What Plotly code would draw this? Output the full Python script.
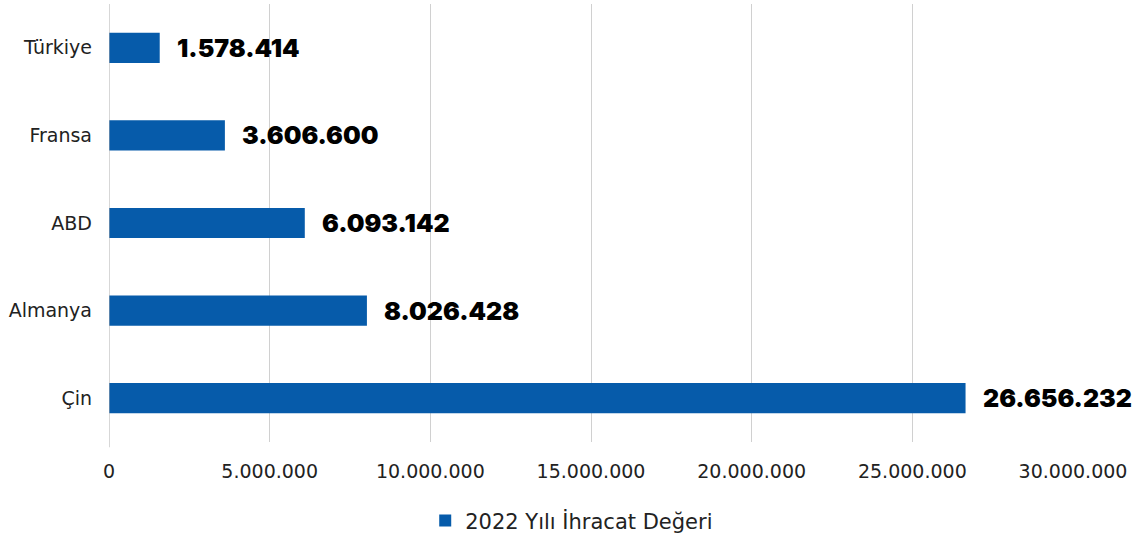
import plotly.graph_objects as go

countries = ["Çin", "Almanya", "ABD", "Fransa", "Türkiye"]
export_values = [26656232, 8026428, 6093142, 3606600, 1578414]
tick_values = [0, 5000000, 10000000, 15000000, 20000000, 25000000, 30000000]
series_name = "2022 Yılı İhracat Değeri"

BAR_COLOR = "#065BAA"
FONT = "DejaVu Sans"
LABEL_FONT = "Inter"


def tr_number(v):
    return f"{v:,}".replace(",", ".")


fig = go.Figure()
fig.add_trace(go.Bar(
    y=countries,
    x=export_values,
    orientation="h",
    name=series_name,
    marker=dict(color=BAR_COLOR, line=dict(width=0)),
    showlegend=True,
))

# value labels to the right of each bar
for c, v in zip(countries, export_values):
    fig.add_annotation(
        x=v, y=c, text=tr_number(v), showarrow=False,
        xanchor="left", xshift=15,
        font=dict(family=LABEL_FONT, size=25, color="#000000", weight=900),
    )

fig.update_layout(
    width=1143, height=538,
    margin=dict(l=109, r=70, t=4, b=96),
    plot_bgcolor="white", paper_bgcolor="white",
    bargap=0.655,
    font=dict(family=FONT, size=19, color="#222222"),
    xaxis=dict(
        range=[0, 30000000],
        tickvals=tick_values,
        ticktext=[tr_number(t) for t in tick_values],
        showgrid=True, gridcolor="#D0D0D0", gridwidth=1,
        zeroline=False, showline=False,
        ticks="", ticklabelstandoff=16,
        tickfont=dict(family=FONT, size=19, color="#222222"),
    ),
    yaxis=dict(
        showgrid=False, zeroline=False, showline=False,
        ticks="", ticklabelstandoff=16,
        tickfont=dict(family=FONT, size=19, color="#222222"),
    ),
    legend=dict(
        orientation="h", x=0.48, xanchor="center",
        yref="container", y=0.032, yanchor="middle",
        font=dict(family=FONT, size=21, color="#222222"),
    ),
)
fig.add_shape(type="line", xref="x", yref="paper", x0=0, x1=0, y0=-0.012, y1=1,
              line=dict(color="#B0B0B0", width=1))

fig.write_html("out.html")
